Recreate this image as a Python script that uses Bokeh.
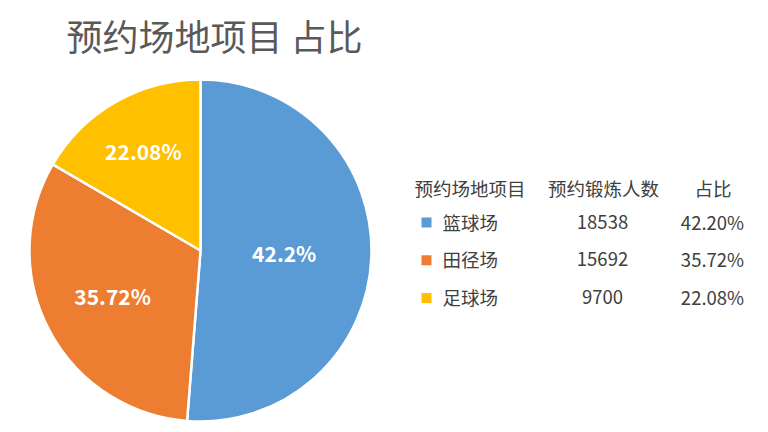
import math
from bokeh.plotting import figure
from bokeh.models import Range1d, ColumnDataSource
from bokeh.core.properties import value
from bokeh.embed import file_html
from bokeh.resources import INLINE

# ---- data ----
title_text = "预约场地项目 占比"
categories = ["篮球场", "田径场", "足球场"]
counts = [18538, 15692, 9700]
share_labels = ["42.20%", "35.72%", "22.08%"]
pie_labels = ["42.2%", "35.72%", "22.08%"]
# slice sizes as drawn in the picture (percent of the circle)
slice_shares = [51.25, 32.15, 16.6]
headers = ["预约场地项目", "预约锻炼人数", "占比"]
colors = ["#5B9BD5", "#ED7D31", "#FFC000"]

# ---- style / layout ----
W, H = 768, 432
FONT = "Noto Sans CJK SC"
TXT = "#404040"

def X(px):
    return px

def Y(py):
    return H - py

p = figure(width=W, height=H, x_range=Range1d(0, W), y_range=Range1d(0, H),
           min_border=0, outline_line_color=None, toolbar_location=None,
           output_backend="svg", x_axis_type=None, y_axis_type=None)
p.grid.visible = False
p.background_fill_color = "white"
p.border_fill_color = "white"

# title
p.text(x=[X(66)], y=[Y(34)], text=[title_text], text_font=value(FONT),
       text_font_size="36px", text_color="#595959",
       text_align="left", text_baseline="middle")

# pie
cx, cy, R = X(200), Y(250), 171
total = sum(slice_shares)
starts, ends, mids = [], [], []
cum = 0.0
for s in slice_shares:
    f = s / total
    a0 = cum * 360.0
    a1 = (cum + f) * 360.0
    starts.append(math.radians(90 - a0))
    ends.append(math.radians(90 - a1))
    mids.append((a0 + a1) / 2)
    cum += f

src = ColumnDataSource(dict(start=starts, end=ends, color=colors))
p.wedge(x=cx, y=cy, radius=R, start_angle="start", end_angle="end",
        direction="clock", fill_color="color", line_color="white",
        line_width=2.5, source=src)

# pie labels (placed along each slice's mid angle)
rfrac = [0.49, 0.58, 0.67]
lx, ly = [], []
for m, rf in zip(mids, rfrac):
    th = math.radians(m)
    lx.append(cx + rf * R * math.sin(th))
    ly.append(cy + rf * R * math.cos(th) + 0.5)
p.text(x=lx, y=ly, text=pie_labels, text_font=value(FONT),
       text_font_size="21px", text_font_style="bold", text_color="white",
       text_align="center", text_baseline="middle")

# table
hy = Y(187)
row_y = [Y(221 + i * 37.5) for i in range(len(categories))]
sq_y = [Y(222 + i * 37.8) for i in range(len(categories))]
p.text(x=[X(414)], y=[hy], text=[headers[0]], text_font=value(FONT),
       text_font_size="18.5px", text_color=TXT, text_align="left", text_baseline="middle")
p.text(x=[X(603), X(712.5)], y=[hy, hy], text=headers[1:], text_font=value(FONT),
       text_font_size="18.5px", text_color=TXT, text_align="center", text_baseline="middle")

p.scatter(x=[X(426)] * len(categories), y=sq_y, marker="square", size=10,
          fill_color=colors, line_color=None)
p.text(x=[X(442)] * len(categories), y=row_y, text=categories, text_font=value(FONT),
       text_font_size="18.5px", text_color=TXT, text_align="left", text_baseline="middle")
p.text(x=[X(602)] * len(categories), y=row_y, text=[str(c) for c in counts],
       text_font=value(FONT), text_font_size="18.5px", text_color=TXT,
       text_align="center", text_baseline="middle")
p.text(x=[X(712)] * len(categories), y=row_y, text=share_labels,
       text_font=value(FONT), text_font_size="18.5px", text_color=TXT,
       text_align="center", text_baseline="middle")

open("out.html", "w").write(file_html(p, INLINE))
